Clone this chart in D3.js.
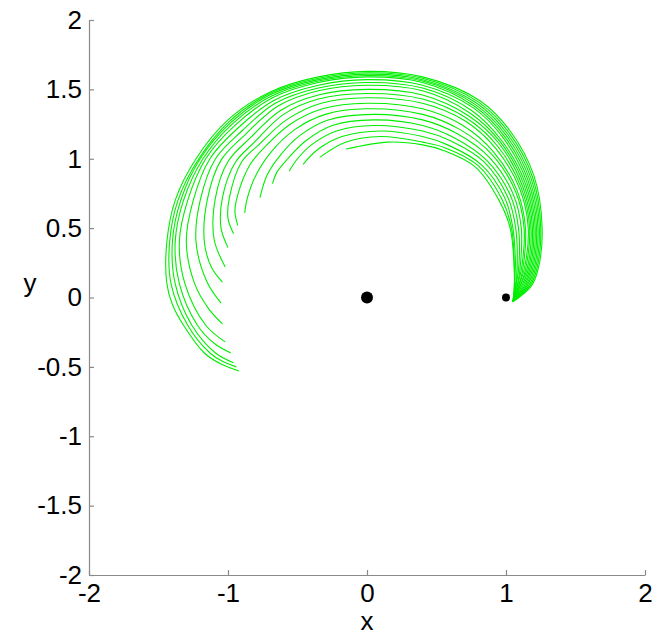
<!DOCTYPE html>
<html>
<head>
<meta charset="utf-8">
<script src="https://cdn.jsdelivr.net/npm/d3@7"></script>
<style>
  body { margin: 0; background: #fff; }
  text { font-family: "Liberation Sans", Arial, sans-serif; fill: #000; }
  .axis path, .axis line { stroke: #8a8a8a; stroke-width: 1.2; }
  .axis text { font-size: 26px; }
  .orbit { fill: none; stroke: #00ee00; stroke-width: 1.1; }
</style>
</head>
<body>
<div id="chart"></div>
<script>
var xTicks = [-2, -1, 0, 1, 2]
var yTicks = [-2, -1.5, -1, -0.5, 0, 0.5, 1, 1.5, 2]

// the two masses
var bodies = [
  {x: 0, y: 0, big: true},
  {x: 1, y: 0, big: false}
]

// trajectories, innermost (shortest) first
var orbits = [
  [[1.05,-0.03],[1.06,0.08],[1.06,0.2],[1.03,0.5],[0.95,0.7],[0.78,0.94],[0.55,1.06],[0.4,1.1],[0.15,1.12],[-0.15,1.07]],
  [[1.05,-0.03],[1.06,0.08],[1.06,0.2],[1.04,0.5],[0.97,0.71],[0.8,0.95],[0.56,1.08],[0.4,1.12],[0.1,1.16],[-0.15,1.12],[-0.34,1.01]],
  [[1.05,-0.03],[1.07,0.08],[1.07,0.2],[1.05,0.5],[0.99,0.72],[0.82,0.96],[0.58,1.1],[0.4,1.16],[0.1,1.2],[-0.18,1.16],[-0.35,1.07],[-0.46,0.96]],
  [[1.05,-0.03],[1.07,0.08],[1.08,0.2],[1.07,0.5],[1.01,0.73],[0.84,0.98],[0.6,1.13],[0.4,1.2],[0.05,1.24],[-0.22,1.2],[-0.4,1.1],[-0.5,1.0],[-0.56,0.91]],
  [[1.05,-0.03],[1.07,0.08],[1.09,0.2],[1.09,0.5],[1.03,0.74],[0.86,0.99],[0.63,1.15],[0.4,1.24],[0.05,1.28],[-0.25,1.24],[-0.44,1.13],[-0.57,1.0],[-0.65,0.9],[-0.68,0.82]],
  [[1.05,-0.03],[1.08,0.08],[1.1,0.2],[1.11,0.5],[1.05,0.75],[0.88,1.01],[0.65,1.18],[0.4,1.28],[0.05,1.32],[-0.28,1.28],[-0.48,1.17],[-0.62,1.03],[-0.72,0.88],[-0.77,0.72]],
  [[1.05,-0.03],[1.08,0.08],[1.11,0.2],[1.13,0.5],[1.07,0.76],[0.9,1.03],[0.67,1.21],[0.4,1.32],[0.0,1.36],[-0.3,1.32],[-0.52,1.21],[-0.68,1.06],[-0.8,0.88],[-0.86,0.72],[-0.88,0.61]],
  [[1.05,-0.03],[1.09,0.08],[1.12,0.2],[1.14,0.5],[1.08,0.77],[0.91,1.05],[0.69,1.24],[0.4,1.36],[0.0,1.4],[-0.32,1.36],[-0.55,1.25],[-0.72,1.1],[-0.84,0.96],[-0.93,0.74],[-0.95,0.62],[-0.93,0.52]],
  [[1.05,-0.03],[1.09,0.08],[1.13,0.2],[1.16,0.5],[1.1,0.78],[0.93,1.07],[0.71,1.27],[0.4,1.4],[0.0,1.44],[-0.33,1.4],[-0.58,1.28],[-0.78,1.1],[-0.9,0.98],[-0.99,0.72],[-1.0,0.57],[-0.96,0.46]],
  [[1.05,-0.03],[1.1,0.08],[1.14,0.2],[1.17,0.5],[1.11,0.79],[0.94,1.09],[0.72,1.29],[0.4,1.43],[0.0,1.47],[-0.35,1.43],[-0.6,1.32],[-0.81,1.12],[-0.95,0.97],[-1.04,0.72],[-1.05,0.5],[-1.0,0.36]],
  [[1.05,-0.03],[1.1,0.08],[1.15,0.2],[1.18,0.5],[1.12,0.8],[0.95,1.11],[0.73,1.31],[0.4,1.46],[0.0,1.5],[-0.35,1.46],[-0.62,1.35],[-0.84,1.15],[-1.0,0.98],[-1.09,0.72],[-1.1,0.42],[-1.02,0.22]],
  [[1.05,-0.03],[1.11,0.08],[1.16,0.2],[1.19,0.5],[1.13,0.81],[0.96,1.12],[0.74,1.33],[0.4,1.49],[0.0,1.53],[-0.35,1.49],[-0.64,1.38],[-0.87,1.18],[-1.05,0.99],[-1.15,0.7],[-1.17,0.4],[-1.12,0.22],[-1.04,0.11]],
  [[1.05,-0.03],[1.12,0.08],[1.17,0.2],[1.2,0.5],[1.14,0.82],[0.97,1.13],[0.75,1.35],[0.4,1.51],[0.0,1.55],[-0.35,1.51],[-0.66,1.4],[-0.9,1.2],[-1.09,1.0],[-1.2,0.7],[-1.23,0.4],[-1.15,0.11],[-1.05,-0.04]],
  [[1.05,-0.03],[1.13,0.08],[1.18,0.2],[1.21,0.5],[1.15,0.83],[0.98,1.15],[0.76,1.37],[0.4,1.53],[0.0,1.57],[-0.35,1.53],[-0.67,1.42],[-0.93,1.22],[-1.13,1.0],[-1.25,0.7],[-1.3,0.4],[-1.24,0.1],[-1.14,-0.08],[-1.04,-0.19]],
  [[1.05,-0.03],[1.14,0.08],[1.19,0.2],[1.22,0.5],[1.16,0.84],[0.99,1.16],[0.77,1.38],[0.4,1.55],[0.0,1.59],[-0.35,1.55],[-0.68,1.44],[-0.95,1.24],[-1.16,1.0],[-1.29,0.7],[-1.35,0.4],[-1.31,0.1],[-1.16,-0.2],[-1.02,-0.32]],
  [[1.05,-0.03],[1.15,0.08],[1.2,0.2],[1.23,0.5],[1.17,0.85],[1.0,1.17],[0.78,1.39],[0.4,1.56],[0.0,1.6],[-0.35,1.56],[-0.69,1.45],[-0.97,1.25],[-1.18,1.0],[-1.32,0.7],[-1.38,0.4],[-1.35,0.1],[-1.22,-0.2],[-1.1,-0.33],[-0.98,-0.4]],
  [[1.05,-0.03],[1.16,0.08],[1.21,0.2],[1.24,0.5],[1.18,0.86],[1.01,1.18],[0.79,1.4],[0.4,1.57],[0.0,1.61],[-0.35,1.57],[-0.7,1.46],[-0.98,1.26],[-1.2,1.0],[-1.34,0.7],[-1.4,0.4],[-1.38,0.1],[-1.26,-0.2],[-1.09,-0.4],[-0.96,-0.47]],
  [[1.05,-0.03],[1.17,0.08],[1.22,0.2],[1.25,0.5],[1.19,0.87],[1.02,1.19],[0.8,1.41],[0.4,1.58],[0.0,1.62],[-0.35,1.58],[-0.7,1.47],[-0.99,1.27],[-1.21,1.0],[-1.36,0.7],[-1.42,0.4],[-1.41,0.1],[-1.29,-0.2],[-1.13,-0.4],[-1.04,-0.46],[-0.94,-0.5]],
  [[1.05,-0.03],[1.18,0.08],[1.23,0.2],[1.26,0.5],[1.2,0.88],[1.03,1.2],[0.81,1.42],[0.4,1.59],[0.0,1.63],[-0.35,1.59],[-0.7,1.48],[-1.0,1.28],[-1.23,1.0],[-1.38,0.7],[-1.44,0.4],[-1.44,0.1],[-1.4,-0.05],[-1.32,-0.2],[-1.17,-0.4],[-1.05,-0.48],[-0.92,-0.53]]
]

var margin = {left: 89, right: 12, top: 20, bottom: 61}
var width = 657 - margin.left - margin.right
var height = 636 - margin.top - margin.bottom

var svg = d3.select('#chart').append('svg')
  .attr('width', 657).attr('height', 636)

var g = svg.append('g')
  .attr('transform', 'translate(' + margin.left + ',' + margin.top + ')')

var x = d3.scaleLinear().domain([-2, 2]).range([0, width])
var y = d3.scaleLinear().domain([-2, 2]).range([height, 0])

var line = d3.line()
  .x(function(d){ return x(d[0]) })
  .y(function(d){ return y(d[1]) })
  .curve(d3.curveCatmullRom.alpha(0.5))

g.selectAll('path.orbit')
  .data(orbits)
  .enter().append('path')
  .attr('class', 'orbit')
  .attr('d', line)

g.selectAll('circle.body')
  .data(bodies)
  .enter().append('circle')
  .attr('class', 'body')
  .attr('cx', function(d){ return x(d.x) })
  .attr('cy', function(d){ return y(d.y) })
  .attr('r', function(d){ return d.big ? 6 : 4 })
  .attr('fill', '#000')

// matlab style: ticks point inward, no box
g.append('g').attr('class', 'axis')
  .attr('transform', 'translate(0,' + height + ')')
  .call(d3.axisBottom(x).tickValues(xTicks).tickSizeInner(-5).tickSizeOuter(0).tickPadding(9)
    .tickFormat(function(d){ return String(d) }))

g.append('g').attr('class', 'axis')
  .call(d3.axisLeft(y).tickValues(yTicks).tickSizeInner(-5).tickSizeOuter(0).tickPadding(7)
    .tickFormat(function(d){ return String(d) }))

svg.selectAll('.axis text').attr('fill', '#000')

svg.append('text')
  .attr('x', margin.left + x(0))
  .attr('y', 630)
  .attr('text-anchor', 'middle')
  .style('font-size', '26px')
  .text('x')

svg.append('text')
  .attr('x', 30)
  .attr('y', 292)
  .attr('text-anchor', 'middle')
  .style('font-size', '26px')
  .text('y')
</script>
</body>
</html>
